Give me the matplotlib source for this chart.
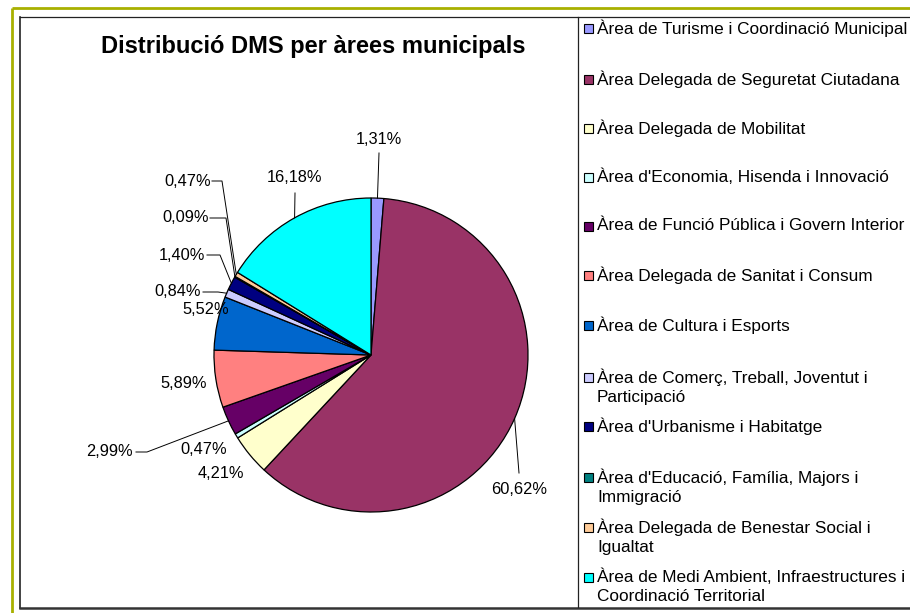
import matplotlib
matplotlib.use("Agg")
import matplotlib.pyplot as plt
from matplotlib.patches import Rectangle
import numpy as np

plt.rcParams['font.family'] = ['Liberation Sans', 'DejaVu Sans']

# ---- data ----
categories = [
    "Àrea de Turisme i Coordinació Municipal",
    "Àrea Delegada de Seguretat Ciutadana",
    "Àrea Delegada de Mobilitat",
    "Àrea d'Economia, Hisenda i Innovació",
    "Àrea de Funció Pública i Govern Interior",
    "Àrea Delegada de Sanitat i Consum",
    "Àrea de Cultura i Esports",
    "Àrea de Comerç, Treball, Joventut i\nParticipació",
    "Àrea d'Urbanisme i Habitatge",
    "Àrea d'Educació, Família, Majors i\nImmigració",
    "Àrea Delegada de Benestar Social i\nIgualtat",
    "Àrea de Medi Ambient, Infraestructures i\nCoordinació Territorial",
]
values = [1.31, 60.62, 4.21, 0.47, 2.99, 5.89, 5.52, 0.84, 1.40, 0.09, 0.47, 16.18]
colors = ["#9999FF", "#993366", "#FFFFCC", "#CCFFFF", "#660066", "#FF8080",
          "#0066CC", "#CCCCFF", "#000080", "#008080", "#FFCC99", "#00FFFF"]
title = "Distribució DMS per àrees municipals"

W, H = 910, 613
fig = plt.figure(figsize=(W / 100, H / 100), dpi=100)
ax = fig.add_axes([0, 0, 1, 1])

def Y(py):
    return H - py

# pie
cx, cy, r = 371, Y(355), 157
wedges, _ = ax.pie(values, colors=colors, startangle=90, counterclock=False,
                   center=(cx, cy), radius=r, normalize=True,
                   wedgeprops=dict(edgecolor='black', linewidth=0.9))
ax.set_xlim(0, W)
ax.set_ylim(0, H)
ax.set_aspect('equal')
ax.axis('off')

# frames
ax.plot([12, W], [Y(8), Y(8)], color="#A8B000", lw=2.0, solid_capstyle='butt')
ax.plot([12, 12], [Y(8), 0], color="#A8B000", lw=2.0, solid_capstyle='butt')
ax.plot([20, W], [Y(17), Y(17)], color="#222222", lw=0.9)
ax.plot([20, 20], [Y(17), Y(608)], color="#222222", lw=1.2)
ax.plot([20, W], [Y(608), Y(608)], color="#333333", lw=1.8)
ax.plot([578, 578], [Y(17), Y(607)], color="#222222", lw=0.9)

def fmt(v):
    return ("%.2f" % v).replace('.', ',') + "%"

# label positions (pixel, top-down)
label_pos = [(379, 139), (519, 490), (221, 474), (204, 449), (109, 452), (184, 383),
             (206, 310), (178, 292), (182, 255), (186, 218), (188, 181), (295, 177)]
leaders = {
    0: [(379, 153)],
    1: [(519, 473)],
    4: [(136, 452), (147, 452)],
    7: [(203, 292), (218, 292)],
    8: [(207, 255), (220, 255)],
    9: [(210, 218), (226, 218)],
    10: [(212, 181), (222, 181)],
    11: [(295, 193)],
}
for i, (w, v) in enumerate(zip(wedges, values)):
    lx, ly = label_pos[i]
    ax.text(lx, Y(ly), fmt(v), ha='center', va='center', fontsize=11.8, color='black')
    if i in leaders:
        ang = np.deg2rad((w.theta1 + w.theta2) / 2)
        ex, ey = cx + r * np.cos(ang), cy + r * np.sin(ang)
        pts = leaders[i]
        xs = [p[0] for p in pts] + [ex]
        ys = [Y(p[1]) for p in pts] + [ey]
        ax.plot(xs, ys, color='black', lw=0.7)

# title
ax.text(313, Y(46), title, ha='center', va='center', fontsize=17, fontweight='bold')

# legend
leg_y = [28, 79, 128, 177, 226, 275, 325, 377, 426, 477, 527, 577]
for lab, col, ly in zip(categories, colors, leg_y):
    ax.add_patch(Rectangle((584, Y(ly) - 5), 9, 9, facecolor=col, edgecolor='black', lw=0.8))
    ax.text(597, Y(ly) + 8.5, lab, ha='left', va='top', fontsize=12.4,
            linespacing=1.3, color='black')

fig.savefig("out.png", dpi=100)
